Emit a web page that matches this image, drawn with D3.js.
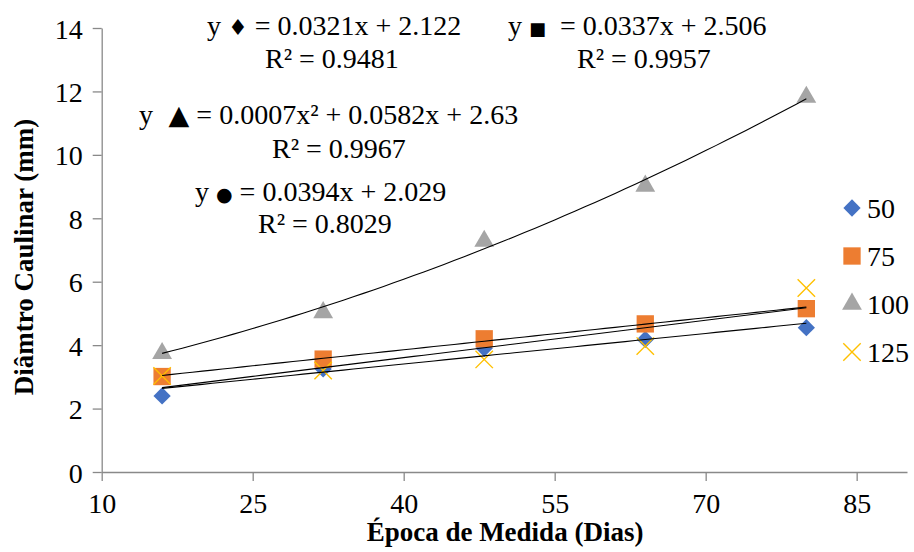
<!DOCTYPE html>
<html>
<head>
<meta charset="utf-8">
<script src="https://cdn.jsdelivr.net/npm/d3@7"></script>
<style>
  body { margin: 0; background: #fff; }
  svg text { font-family: "Liberation Serif", "Times New Roman", serif; fill: #000; }
</style>
</head>
<body>
<div id="chart"></div>
<script>
// measurement days
const days = [16, 32, 48, 64, 80];
// series values (diameter, mm)
const s50 = [2.40, 3.25, 3.90, 4.18, 4.55];
const s75 = [3.01, 3.56, 4.20, 4.67, 5.15];
const s100 = [3.74, 5.03, 7.28, 9.02, 11.82];
const s125 = [3.03, 3.20, 3.55, 3.97, 5.80];
const seriesNames = ["50", "75", "100", "125"];
// trendline coefficients [a2, a1, a0] as printed in the chart
const fit50 = [0, 0.0321, 2.122];
const fit75 = [0, 0.0337, 2.506];
const fit100 = [0.0007, 0.0582, 2.63];
const fit125 = [0, 0.0394, 2.029];
const xTicks = [10, 25, 40, 55, 70, 85];
const yTicks = [0, 2, 4, 6, 8, 10, 12, 14];

const width = 914, height = 552;
const svg = d3.select("#chart").append("svg")
    .attr("width", width)
    .attr("height", height);

const x = d3.scaleLinear().domain([10, 90]).range([101.7, 907]);
const y = d3.scaleLinear().domain([0, 14]).range([472, 28]);

const serif = "Liberation Serif, Times New Roman, serif";
const axisColor = "#898989";
const fontSize = 28;

// axes
const gx = svg.append("g")
    .attr("transform", "translate(0," + y(0) + ")")
    .call(d3.axisBottom(x).tickValues(xTicks).tickSize(9).tickPadding(12).tickSizeOuter(0));
const gy = svg.append("g")
    .attr("transform", "translate(" + x(10) + ",0)")
    .call(d3.axisLeft(y).tickValues(yTicks).tickSize(9).tickPadding(10).tickSizeOuter(0));
[gx, gy].forEach(g => {
    g.attr("font-family", serif);
    g.select(".domain").attr("stroke", axisColor).attr("stroke-width", 1.3);
    g.selectAll(".tick line").attr("stroke", axisColor).attr("stroke-width", 1.3);
    g.selectAll(".tick text")
        .style("font-family", serif)
        .attr("font-size", fontSize)
        .attr("fill", "#000");
});
gy.selectAll(".tick text").attr("dy", "0.36em");

// axis titles
svg.append("text")
    .attr("x", 505).attr("y", 541)
    .attr("text-anchor", "middle")
    .attr("font-size", 27).attr("font-weight", "bold")
    .text("Época de Medida (Dias)");
svg.append("text")
    .attr("transform", "translate(33,257) rotate(-90)")
    .attr("text-anchor", "middle")
    .attr("font-size", 27).attr("font-weight", "bold")
    .text("Diâmtro Caulinar (mm)");

// markers
const colors = ["#4472C4", "#ED7D31", "#A5A5A5", "#FFC000"];
const allSeries = [s50, s75, s100, s125];
const symbols = [
    d3.symbol().type(d3.symbolDiamond2).size(190),
    d3.symbol().type(d3.symbolSquare).size(300),
    d3.symbol().type(d3.symbolTriangle).size(170),
    d3.symbol().type(d3.symbolTimes).size(200)
];

function drawMarker(g, i, cx, cy) {
    const p = g.append("path")
        .attr("transform", "translate(" + cx + "," + cy + ")")
        .attr("d", symbols[i]());
    if (i === 3) {
        p.attr("fill", "none").attr("stroke", colors[i]).attr("stroke-width", 1.4);
    } else {
        p.attr("fill", colors[i]);
    }
}

const marks = svg.append("g");
allSeries.forEach((s, i) => {
    s.forEach((v, j) => drawMarker(marks, i, x(days[j]), y(v)));
});

// trendlines (drawn over the markers)
const fits = [fit50, fit75, fit100, fit125];
const line = d3.line().x(d => x(d[0])).y(d => y(d[1]));
const xs = d3.range(days[0], days[days.length - 1] + 0.01, 1);
fits.forEach(c => {
    svg.append("path")
        .attr("d", line(xs.map(v => [v, c[0] * v * v + c[1] * v + c[2]])))
        .attr("fill", "none")
        .attr("stroke", "#000")
        .attr("stroke-width", 1.1);
});

// legend
const legend = svg.append("g");
seriesNames.forEach((n, i) => {
    const ly = 208 + i * 48;
    drawMarker(legend, i, 852, ly);
    legend.append("text")
        .attr("x", 867).attr("y", ly)
        .attr("dy", "0.35em")
        .attr("font-size", fontSize)
        .text(n);
});

// equations
const eqs = [
    {x: 207, y: 35, sym: "\u2666", eq: " = 0.0321x + 2.122", symSize: 22},
    {x: 265, y: 68, r2: "0.9481"},
    {x: 508, y: 35, sym: "\u25A0", eq: "  = 0.0337x + 2.506", symSize: 18},
    {x: 577, y: 68, r2: "0.9957"},
    {x: 139, y: 124, sym: " \u25B2", eq: " = 0.0007x\u00B2 + 0.0582x + 2.63", symSize: 27},
    {x: 272, y: 158, r2: "0.9967"},
    {x: 195, y: 201, sym: "\u25CF", eq: " = 0.0394x + 2.029", symSize: 19},
    {x: 258, y: 233, r2: "0.8029"}
];
eqs.forEach(e => {
    const t = svg.append("text")
        .attr("x", e.x).attr("y", e.y)
        .attr("font-size", fontSize)
        .style("white-space", "pre");
    if (e.r2) {
        t.text("R\u00B2 = " + e.r2);
    } else {
        t.append("tspan").text("y ");
        t.append("tspan").style("font-family", "DejaVu Sans").attr("font-size", e.symSize).text(e.sym);
        t.append("tspan").text(e.eq);
    }
});
</script>
</body>
</html>
